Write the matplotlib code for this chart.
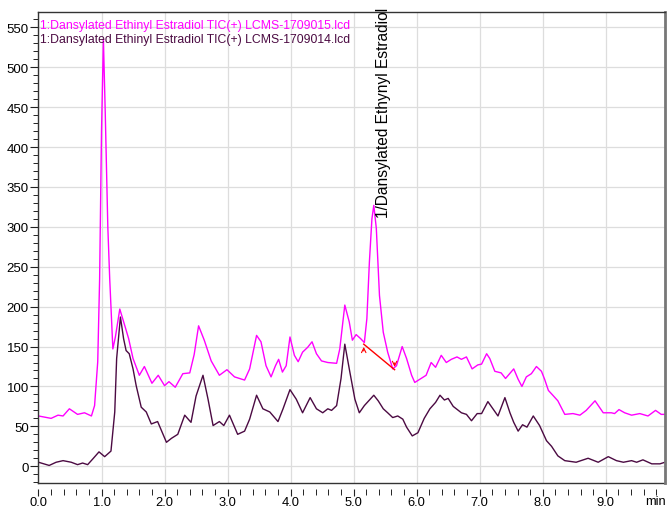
import matplotlib
matplotlib.use('Agg')
import matplotlib.pyplot as plt
from matplotlib.ticker import MultipleLocator

plt.rcParams['font.family'] = ['Liberation Sans', 'DejaVu Sans']

# retention time (min) / intensity, run 1709015 (magenta)
t_015 = [0.0, 0.2, 0.31, 0.39, 0.49, 0.62, 0.73, 0.84, 0.89, 0.94, 0.97, 1.0,
         1.03, 1.06, 1.1, 1.13, 1.18, 1.22, 1.29, 1.37, 1.43, 1.5, 1.6, 1.68,
         1.8, 1.9, 2.0, 2.07, 2.17, 2.29, 2.4, 2.47, 2.54, 2.63, 2.74, 2.87,
         2.99, 3.11, 3.27, 3.35, 3.46, 3.53, 3.61, 3.69, 3.76, 3.81, 3.87,
         3.93, 3.99, 4.06, 4.12, 4.19, 4.27, 4.34, 4.41, 4.49, 4.59, 4.73,
         4.78, 4.86, 4.93, 4.98, 5.04, 5.11, 5.17, 5.21, 5.25, 5.29, 5.32,
         5.36, 5.41, 5.47, 5.54, 5.62, 5.68, 5.77, 5.84, 5.92, 5.97, 6.07,
         6.15, 6.23, 6.3, 6.39, 6.47, 6.55, 6.64, 6.71, 6.79, 6.88, 6.97,
         7.03, 7.11, 7.16, 7.24, 7.34, 7.41, 7.54, 7.61, 7.67, 7.74, 7.82,
         7.9, 7.98, 8.03, 8.09, 8.16, 8.24, 8.35, 8.48, 8.59, 8.69, 8.83,
         8.96, 9.09, 9.14, 9.21, 9.3, 9.41, 9.54, 9.67, 9.79, 9.88, 9.94]
i_015 = [63, 60, 64, 63, 72, 65, 67, 63, 76, 131, 235, 420,
         535, 440, 300, 235, 147, 162, 197, 176, 160, 135, 114, 125,
         104, 114, 101, 106, 99, 116, 117, 140, 176, 158, 132, 114,
         121, 112, 108, 122, 164, 156, 126, 112, 126, 134, 118,
         126, 162, 139, 131, 143, 149, 156, 141, 132, 130, 129,
         147, 202, 181, 158, 165, 160, 155, 185, 256, 310, 327,
         298, 214, 168, 143, 122, 126, 150, 135, 114, 105, 110,
         114, 130, 124, 139, 130, 134, 137, 134, 137, 122, 127,
         128, 141, 135, 119, 117, 110, 122, 109, 100, 112, 116,
         125, 119, 109, 95, 89, 82, 65, 66, 64, 70, 82,
         67, 67, 66, 71, 67, 64, 66, 63, 70, 65, 65]

# run 1709014 (dark purple)
t_014 = [0.0, 0.17, 0.28, 0.39, 0.52, 0.62, 0.7, 0.78, 0.86, 0.96, 1.05,
         1.15, 1.21, 1.24, 1.3, 1.35, 1.39, 1.44, 1.5, 1.55, 1.63, 1.71,
         1.79, 1.89, 2.03, 2.11, 2.21, 2.32, 2.42, 2.5, 2.61, 2.69, 2.77,
         2.87, 2.94, 3.03, 3.16, 3.27, 3.35, 3.46, 3.56, 3.67, 3.8, 3.88,
         3.99, 4.09, 4.19, 4.31, 4.41, 4.51, 4.59, 4.65, 4.73, 4.8, 4.86,
         4.94, 5.02, 5.09, 5.17, 5.32, 5.39, 5.47, 5.54, 5.62, 5.7, 5.78,
         5.84, 5.93, 6.02, 6.12, 6.21, 6.3, 6.37, 6.44, 6.5, 6.58, 6.71,
         6.79, 6.87, 6.96, 7.03, 7.13, 7.21, 7.29, 7.4, 7.48, 7.54, 7.61,
         7.68, 7.75, 7.85, 7.95, 8.06, 8.14, 8.24, 8.35, 8.53, 8.72, 8.88,
         9.04, 9.17, 9.28, 9.41, 9.49, 9.59, 9.73, 9.86, 9.94]
i_014 = [5, 1, 5, 7, 5, 2, 4, 2, 9, 18, 12,
         19, 68, 135, 187, 160, 145, 141, 122, 101, 74, 68,
         53, 56, 30, 35, 40, 64, 55, 88, 114, 84, 51,
         56, 51, 64, 40, 44, 59, 89, 72, 68, 56, 72,
         96, 84, 67, 86, 72, 67, 72, 70, 76, 110, 153,
         118, 84, 67, 76, 89, 82, 72, 67, 61, 63, 59,
         49, 38, 42, 60, 72, 80, 89, 83, 85, 75, 67,
         65, 57, 66, 66, 81, 72, 63, 86, 67, 55, 44,
         52, 49, 63, 51, 32, 25, 13, 7, 5, 10, 5,
         12, 7, 5, 7, 5, 8, 3, 3, 5]

legend_015 = '1:Dansylated Ethinyl Estradiol TIC(+) LCMS-1709015.lcd'
legend_014 = '1:Dansylated Ethinyl Estradiol TIC(+) LCMS-1709014.lcd'
peak_name = '1/Dansylated Ethynyl Estradiol'
baseline_t = [5.16, 5.65]
baseline_i = [153, 121]

MAGENTA = '#ff00ff'
PURPLE = '#4b0a42'

fig = plt.figure(figsize=(6.67, 5.10), dpi=100)
ax = fig.add_axes([0.0577, 0.051, 0.9393, 0.923])

ax.plot(t_015, i_015, color=MAGENTA, lw=1.0)
ax.plot(t_014, i_014, color=PURPLE, lw=1.0)

# integration baseline with start/end markers
ax.plot(baseline_t, baseline_i, color='red', lw=1.0)
ax.annotate('', xy=(baseline_t[0], baseline_i[0]), xytext=(baseline_t[0], baseline_i[0] - 12),
            arrowprops=dict(arrowstyle='->', color='red', lw=0.8, mutation_scale=8))
ax.annotate('', xy=(baseline_t[1], baseline_i[1]), xytext=(baseline_t[1], baseline_i[1] + 12),
            arrowprops=dict(arrowstyle='->', color='red', lw=0.8, mutation_scale=8))

ax.text(5.48, 312, peak_name, rotation=90, ha='center', va='bottom', fontsize=11.2,
        color='black', clip_on=False)

ax.text(0.002, 0.986, legend_015, transform=ax.transAxes, color=MAGENTA,
        fontsize=8.85, va='top', ha='left')
ax.text(0.002, 0.957, legend_014, transform=ax.transAxes, color=PURPLE,
        fontsize=8.85, va='top', ha='left')

ax.set_xlim(0, 9.94)
ax.set_ylim(-21, 569)
ax.xaxis.set_minor_locator(MultipleLocator(0.2))
ax.yaxis.set_major_locator(MultipleLocator(50))
ax.yaxis.set_minor_locator(MultipleLocator(10))
ax.set_xticks([i * 1.0 for i in range(10)])
ax.set_xticklabels(['%.1f' % (i * 1.0) for i in range(10)])

ax.grid(True, which='major', color='#dddddd', lw=0.9)
ax.set_axisbelow(True)

for s in ['left', 'top']:
    ax.spines[s].set_color('#333333')
    ax.spines[s].set_linewidth(1.0)
ax.spines['right'].set_color('#777777')
ax.spines['right'].set_linewidth(2.0)
# x ticks sit a little below the frame
ax.spines['bottom'].set_position(('outward', 4))
ax.spines['bottom'].set_visible(False)
ax.plot([0, 1], [0, 0], transform=ax.transAxes, color='#333333', lw=1.0, clip_on=False)

ax.tick_params(axis='both', which='major', labelsize=9.5, direction='out', color='#222222')
ax.tick_params(axis='y', which='major', length=6, pad=1)
ax.tick_params(axis='y', which='minor', length=3.5)
ax.tick_params(axis='x', which='major', length=5, pad=0.5, labelsize=9.3)
ax.tick_params(axis='x', which='minor', length=4)

fig.text(655 / 667, 2 / 510, 'min', ha='center', va='bottom', fontsize=9.3)

fig.savefig('out.png', dpi=100)
